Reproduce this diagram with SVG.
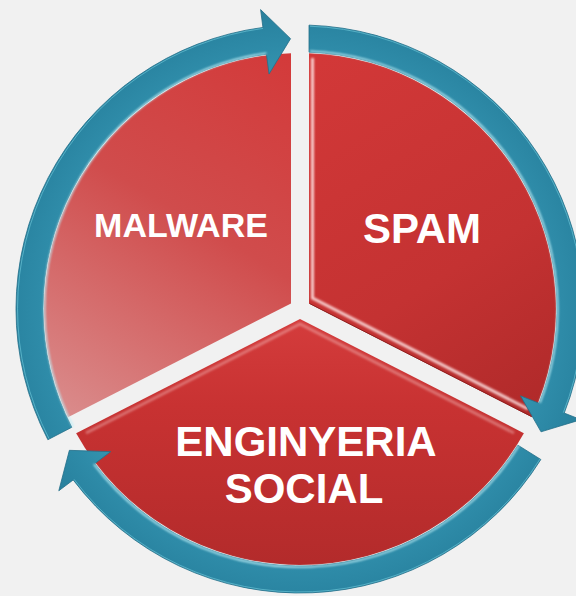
<svg xmlns="http://www.w3.org/2000/svg" width="576" height="596" viewBox="0 0 576 596">
  <defs>
    <linearGradient id="gMalware" x1="290" y1="55" x2="70" y2="420" gradientUnits="userSpaceOnUse">
      <stop offset="0" stop-color="#d33a3a"/>
      <stop offset="0.45" stop-color="#d04c4c"/>
      <stop offset="1" stop-color="#da8c8c"/>
    </linearGradient>
    <linearGradient id="gSpam" x1="320" y1="60" x2="540" y2="410" gradientUnits="userSpaceOnUse">
      <stop offset="0" stop-color="#d23838"/>
      <stop offset="0.6" stop-color="#c43232"/>
      <stop offset="1" stop-color="#b02a2a"/>
    </linearGradient>
    <linearGradient id="gSocial" x1="300" y1="320" x2="300" y2="565" gradientUnits="userSpaceOnUse">
      <stop offset="0" stop-color="#d43c3c"/>
      <stop offset="0.35" stop-color="#c83232"/>
      <stop offset="1" stop-color="#b32b2b"/>
    </linearGradient>
    <radialGradient id="gRing" cx="300" cy="309" r="305" gradientUnits="userSpaceOnUse">
      <stop offset="0.76" stop-color="#3596b0"/>
      <stop offset="0.86" stop-color="#2e8ba8"/>
      <stop offset="0.93" stop-color="#2a85a2"/>
      <stop offset="1" stop-color="#2a7f9b"/>
    </radialGradient>
    <filter id="soft" x="-10%" y="-10%" width="120%" height="120%">
      <feGaussianBlur stdDeviation="1"/>
    </filter>
  </defs>
  <style>
    .label { font-family: "Liberation Sans", Arial, sans-serif; font-weight: bold; fill: #ffffff; text-anchor: middle; }
    .ring { fill: url(#gRing); stroke: #236f89; stroke-width: 0.8; }
    .shine { fill: none; stroke: #bdeef7; stroke-width: 1.6; filter: url(#soft); }
    .rim { fill: none; stroke: #62bccf; stroke-width: 1; opacity: 0.8; }
    .bevel { fill: none; stroke: #ffe6e6; stroke-width: 3; filter: url(#soft); }
    .edge { fill: none; stroke: #8e1f1f; stroke-width: 1; }
  </style>

  <rect width="576" height="596" fill="#f1f1f1"/>

  <!-- pie sectors -->
  <g id="node-malware">
    <path d="M291 303.48 L67.96 417.13 A256 256 0 0 1 291 53.16 Z" fill="url(#gMalware)"/>
    <path class="bevel" d="M287 60 L287 298" opacity="0.7"/>
    <text class="label" x="181" y="237" font-size="34">MALWARE</text>
  </g>

  <g id="node-spam">
    <path d="M309 303.48 L309 53.16 A256 256 0 0 1 532.04 417.13 Z" fill="url(#gSpam)"/>
    <path class="bevel" d="M312.5 58 L312.5 298 L528 409" opacity="0.85"/>
    <path class="edge" d="M309.5 303.5 L531.5 416.5"/>
    <text class="label" x="422" y="243" font-size="42">SPAM</text>
  </g>

  <g id="node-social">
    <path d="M300 319.1 L523.86 433.17 A256 256 0 0 1 76.14 433.17 Z" fill="url(#gSocial)"/>
    <path class="bevel" d="M86 433 L300 324 L514 433" opacity="0.35"/>
    <text class="label" x="306" y="456" font-size="42">ENGINYERIA</text>
    <text class="label" x="304" y="503" font-size="42">SOCIAL</text>
  </g>

  <!-- circular arrows around the pie -->
  <g id="connectors">
    <path class="ring" d="M47.86 439.7 A284 284 0 0 1 262.93 27.43 L260.58 9.59 L290.56 38.66 L269.06 74.03 L266.45 54.2 A257 257 0 0 0 71.83 427.27 Z"/>
    <path class="shine" d="M73 426.6 A258 258 0 0 1 266.3 53.2"/>
    <path class="rim" d="M49 438.6 A283 283 0 0 1 263 28.4"/>

    <path class="ring" d="M309 25.14 A284 284 0 0 1 564.24 413.09 L580.99 419.68 L541.02 431.8 L520.51 395.86 L539.12 403.19 A257 257 0 0 0 309 52.16 Z"/>
    <path class="shine" d="M310 51.2 A258 258 0 0 1 539.9 402.8"/>
    <path class="rim" d="M310 26.2 A283 283 0 0 1 563.3 412.7"/>

    <path class="ring" d="M540.85 459.5 A284 284 0 0 1 73.19 479.92 L58.81 490.75 L69.36 450.34 L110.72 451.63 L94.75 463.67 A257 257 0 0 0 517.95 445.19 Z"/>
    <path class="shine" d="M518.8 445.7 A258 258 0 0 1 94 464.3"/>
    <path class="rim" d="M540 459 A283 283 0 0 1 74 479.3"/>
  </g>
</svg>
